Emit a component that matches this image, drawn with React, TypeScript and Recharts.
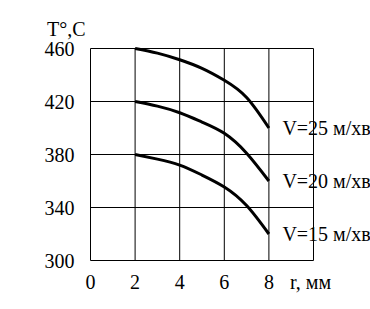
import React from "react";
import { LineChart, Line, XAxis, YAxis, CartesianGrid, Label } from "recharts";

const radius = [2, 3, 4, 5, 6, 7, 8];
const temp25 = [460, 456.5, 451.5, 445, 436, 423, 400];
const temp20 = [420, 416.5, 411.5, 404.5, 396, 381, 360];
const temp15 = [380, 376.5, 372, 364.5, 355.5, 341.5, 320];
const speeds = ["25", "20", "15"];
const xTicks = [0, 2, 4, 6, 8, 10];
const yTicks = [300, 340, 380, 420, 460];

const data = radius.map((r, i) => ({
  r,
  v25: temp25[i],
  v20: temp20[i],
  v15: temp15[i],
}));

const FONT = "'Liberation Serif', 'Times New Roman', serif";

// label only at the last point of each curve
const endLabel = (speed: string) => (props: any) => {
  const { x, y, index } = props;
  if (index !== radius.length - 1) return null;
  return (
    <text
      x={x + 13.5}
      y={y}
      dy="0.35em"
      fontFamily={FONT}
      fontSize={20}
      fill="#000"
    >
      {`V=${speed} м/хв`}
    </text>
  );
};

const XTick = (props: any) => {
  const { x, y, payload } = props;
  const v = payload.value;
  return (
    <text x={v === 10 ? x - 3 : x} y={y} dy="0.71em" textAnchor="middle" fontFamily={FONT} fontSize={20} fill="#000">
      {v === 10 ? "r, мм" : String(v)}
    </text>
  );
};

const YTick = (props: any) => {
  const { x, y, payload } = props;
  return (
    <text x={x} y={y} dy="0.35em" textAnchor="end" fontFamily={FONT} fontSize={20} fill="#000">
      {String(payload.value)}
    </text>
  );
};

export default function App() {
  return (
    <div style={{ position: "absolute", left: 0, top: 0, width: 370, height: 309, background: "#fff" }}>
      <LineChart
        width={370}
        height={309}
        data={data}
        margin={{ top: 48.5, right: 56.5, bottom: 18.5, left: 0 }}
        style={{ fontFamily: FONT }}
      >
        <CartesianGrid stroke="#000" strokeWidth={1} />
        <XAxis
          dataKey="r"
          type="number"
          domain={[0, 10]}
          ticks={xTicks}
          axisLine={false}
          tickLine={false}
          tickSize={0}
          tickMargin={14}
          height={30}
          interval={0}
          tick={<XTick />}
        />
        <YAxis
          type="number"
          domain={[300, 460]}
          ticks={yTicks}
          axisLine={false}
          tickLine={false}
          tickSize={0}
          tickMargin={16}
          width={90.5}
          interval={0}
          tick={<YTick />}
        >
          <Label
            content={() => (
              <text x={47} y={35.5} fontFamily={FONT} fontSize={20} fill="#000">
                T°,C
              </text>
            )}
          />
        </YAxis>
        <Line type="natural" dataKey="v25" stroke="#000" strokeWidth={3} dot={false} isAnimationActive={false} label={endLabel(speeds[0])} />
        <Line type="natural" dataKey="v20" stroke="#000" strokeWidth={3} dot={false} isAnimationActive={false} label={endLabel(speeds[1])} />
        <Line type="natural" dataKey="v15" stroke="#000" strokeWidth={3} dot={false} isAnimationActive={false} label={endLabel(speeds[2])} />
      </LineChart>
    </div>
  );
}
